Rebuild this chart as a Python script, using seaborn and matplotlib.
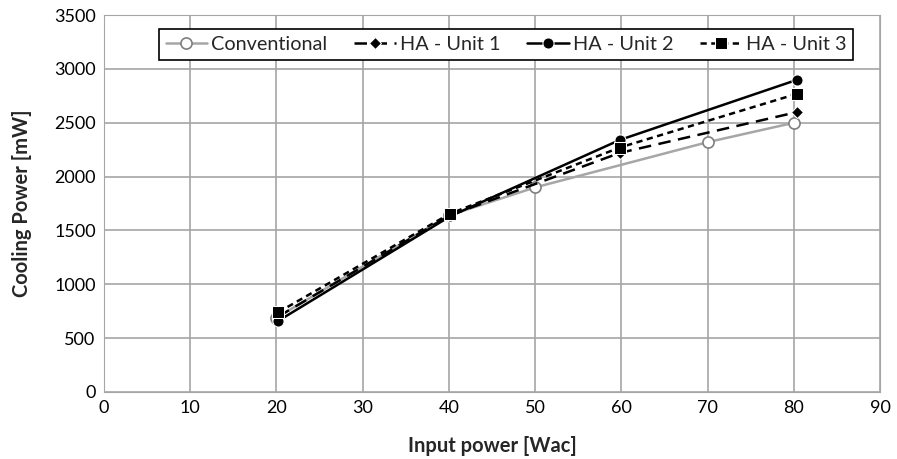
import pandas as pd
import matplotlib.pyplot as plt
import seaborn as sns

# values
conv_x = [20, 40, 50, 70, 80]
conv_y = [690, 1640, 1900, 2320, 2500]
unit1_x = [20.2, 40.1, 59.8, 80.4]
unit1_y = [700, 1640, 2220, 2600]
unit2_x = [20.2, 40.1, 59.8, 80.4]
unit2_y = [660, 1630, 2340, 2900]
unit3_x = [20.2, 40.1, 59.8, 80.4]
unit3_y = [740, 1655, 2270, 2770]

sns.set_style("white")
plt.rcParams["font.family"] = ["Lato", "DejaVu Sans"]

fig = plt.figure(figsize=(8.97, 4.59), dpi=100)
ax = fig.add_axes([0.116, 0.146, 0.865, 0.821])

sns.lineplot(x=conv_x, y=conv_y, ax=ax, color="#a6a6a6", lw=1.8, marker="o",
             markersize=8, markerfacecolor="white", markeredgecolor="#7f7f7f",
             markeredgewidth=1.2, label="Conventional")
sns.lineplot(x=unit1_x, y=unit1_y, ax=ax, color="black", lw=1.8, marker="D",
             markersize=6, linestyle=(0, (5, 3)), label="HA - Unit 1")
sns.lineplot(x=unit2_x, y=unit2_y, ax=ax, color="black", lw=1.8, marker="o",
             markersize=8, label="HA - Unit 2")
sns.lineplot(x=unit3_x, y=unit3_y, ax=ax, color="black", lw=1.8, marker="s",
             markersize=8, linestyle=(0, (2.5, 1.8)), label="HA - Unit 3")

ax.set_xlim(0, 90)
ax.set_ylim(0, 3500)
ax.set_xticks(range(0, 91, 10))
ax.set_yticks(range(0, 3501, 500))
ax.grid(True, color="#a6a6a6", lw=1.2)
for s in ax.spines.values():
    s.set_color("#a6a6a6")
ax.tick_params(labelsize=13, colors="#404040", length=0, pad=6)
for lab in ax.get_xticklabels() + ax.get_yticklabels():
    lab.set_color("black")
ax.set_xlabel("Input power [Wac]", fontsize=14.5, fontweight="bold", labelpad=14)
ax.set_ylabel("Cooling Power [mW]", fontsize=14.5, fontweight="bold", labelpad=16)

leg = ax.legend(loc="upper center", bbox_to_anchor=(0.518, 0.99), ncol=4,
                fontsize=14.3, frameon=True, fancybox=False, handlelength=2.1,
                handletextpad=0.2, columnspacing=1.35, borderpad=0.35)
leg.get_frame().set_edgecolor("black")
leg.get_frame().set_linewidth(1.2)
leg.get_frame().set_alpha(1)

fig.savefig("out.png", dpi=100)
